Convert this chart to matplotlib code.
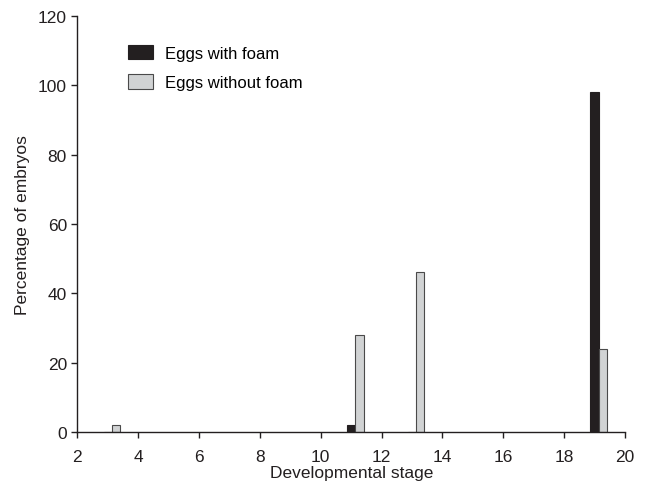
import matplotlib
matplotlib.use("Agg")
import matplotlib.pyplot as plt
import numpy as np

plt.rcParams['font.family'] = ['Liberation Sans', 'DejaVu Sans']

stages = [3, 11, 13, 19]
with_foam = [0, 2, 0, 98]
without_foam = [2, 28, 46, 24]
xticks = [2, 4, 6, 8, 10, 12, 14, 16, 18, 20]
yticks = [0, 20, 40, 60, 80, 100, 120]

fig = plt.figure(figsize=(6.45, 4.89), dpi=100)
ax = fig.add_axes([0.12, 0.1145, 0.849, 0.851])

w = 0.27
x = np.array(stages, dtype=float)
ax.bar(x, with_foam, width=w, color='#231f20', edgecolor='#231f20', linewidth=0.8,
       label='Eggs with foam')
ax.bar(x + w, without_foam, width=w, color='#d1d3d4', edgecolor='#4a4a4a', linewidth=0.8,
       label='Eggs without foam')

ax.set_xlim(2, 20)
ax.set_ylim(0, 120)
ax.set_xticks(xticks)
ax.set_yticks(yticks)
ax.spines['top'].set_visible(False)
ax.spines['right'].set_visible(False)
for s in ['left', 'bottom']:
    ax.spines[s].set_color('#231f20')
    ax.spines[s].set_linewidth(1.0)
ax.tick_params(direction='out', length=4, width=1.0, labelsize=12.5, colors='#231f20')
ax.tick_params(axis='x', pad=8)
ax.set_xlabel('Developmental stage', fontsize=12.5, color='#231f20', labelpad=1)
ax.set_ylabel('Percentage of embryos', fontsize=12.5, color='#231f20', labelpad=6)

ax.legend(loc='upper left', bbox_to_anchor=(128 / 645, 1 - 46 / 489),
          bbox_transform=fig.transFigure, borderaxespad=0, borderpad=0,
          frameon=False, fontsize=12,
          handlelength=1.5, handleheight=0.95, handletextpad=0.7, labelspacing=0.8)

fig.savefig('out.png', dpi=100)
